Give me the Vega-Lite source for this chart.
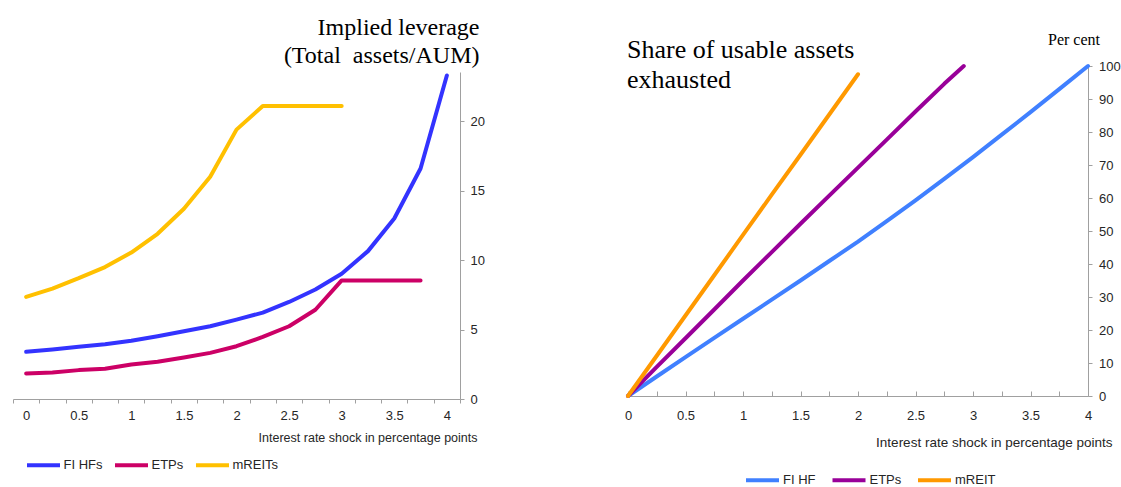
{
  "$schema": "https://vega.github.io/schema/vega-lite/v6.json",
  "padding": {"left": 12, "top": 15, "right": 0, "bottom": 0},
  "background": "white",
  "config": {"view": {"stroke": null}, "font": "Liberation Sans", "axis": {"grid": false}},
  "datasets": {
    "leverage": [
      {"x": 0, "s": "FI HFs", "v": 3.4}, {"x": 0.25, "s": "FI HFs", "v": 3.56}, {"x": 0.5, "s": "FI HFs", "v": 3.76}, {"x": 0.75, "s": "FI HFs", "v": 3.95},
      {"x": 1, "s": "FI HFs", "v": 4.19}, {"x": 1.25, "s": "FI HFs", "v": 4.52}, {"x": 1.5, "s": "FI HFs", "v": 4.88}, {"x": 1.75, "s": "FI HFs", "v": 5.24},
      {"x": 2, "s": "FI HFs", "v": 5.72}, {"x": 2.25, "s": "FI HFs", "v": 6.22}, {"x": 2.5, "s": "FI HFs", "v": 6.99}, {"x": 2.75, "s": "FI HFs", "v": 7.89},
      {"x": 3, "s": "FI HFs", "v": 9.02}, {"x": 3.25, "s": "FI HFs", "v": 10.65}, {"x": 3.5, "s": "FI HFs", "v": 13.0}, {"x": 3.75, "s": "FI HFs", "v": 16.6},
      {"x": 4, "s": "FI HFs", "v": 23.3},
      {"x": 0, "s": "ETPs", "v": 1.84}, {"x": 0.25, "s": "ETPs", "v": 1.91}, {"x": 0.5, "s": "ETPs", "v": 2.08}, {"x": 0.75, "s": "ETPs", "v": 2.18},
      {"x": 1, "s": "ETPs", "v": 2.49}, {"x": 1.25, "s": "ETPs", "v": 2.68}, {"x": 1.5, "s": "ETPs", "v": 2.99}, {"x": 1.75, "s": "ETPs", "v": 3.32},
      {"x": 2, "s": "ETPs", "v": 3.8}, {"x": 2.25, "s": "ETPs", "v": 4.47}, {"x": 2.5, "s": "ETPs", "v": 5.24}, {"x": 2.75, "s": "ETPs", "v": 6.43},
      {"x": 3, "s": "ETPs", "v": 8.54}, {"x": 3.25, "s": "ETPs", "v": 8.54}, {"x": 3.5, "s": "ETPs", "v": 8.54}, {"x": 3.75, "s": "ETPs", "v": 8.54},
      {"x": 0, "s": "mREITs", "v": 7.35}, {"x": 0.25, "s": "mREITs", "v": 7.95}, {"x": 0.5, "s": "mREITs", "v": 8.7}, {"x": 0.75, "s": "mREITs", "v": 9.5},
      {"x": 1, "s": "mREITs", "v": 10.55}, {"x": 1.25, "s": "mREITs", "v": 11.9}, {"x": 1.5, "s": "mREITs", "v": 13.7}, {"x": 1.75, "s": "mREITs", "v": 16.0},
      {"x": 2, "s": "mREITs", "v": 19.4}, {"x": 2.25, "s": "mREITs", "v": 21.1}, {"x": 2.5, "s": "mREITs", "v": 21.1}, {"x": 2.75, "s": "mREITs", "v": 21.1},
      {"x": 3, "s": "mREITs", "v": 21.1}
    ],
    "usable": [
      {"x": 0, "s": "FI HF", "v": 0}, {"x": 0.25, "s": "FI HF", "v": 5.9}, {"x": 0.5, "s": "FI HF", "v": 11.8}, {"x": 0.75, "s": "FI HF", "v": 17.6},
      {"x": 1, "s": "FI HF", "v": 23.4}, {"x": 1.25, "s": "FI HF", "v": 29.2}, {"x": 1.5, "s": "FI HF", "v": 35.0}, {"x": 1.75, "s": "FI HF", "v": 40.9},
      {"x": 2, "s": "FI HF", "v": 46.8}, {"x": 2.25, "s": "FI HF", "v": 53.0}, {"x": 2.5, "s": "FI HF", "v": 59.3}, {"x": 2.75, "s": "FI HF", "v": 65.8},
      {"x": 3, "s": "FI HF", "v": 72.4}, {"x": 3.25, "s": "FI HF", "v": 79.2}, {"x": 3.5, "s": "FI HF", "v": 86.0}, {"x": 3.75, "s": "FI HF", "v": 93.0},
      {"x": 4, "s": "FI HF", "v": 100},
      {"x": 0, "s": "ETPs", "v": 0}, {"x": 0.25, "s": "ETPs", "v": 8.8}, {"x": 0.5, "s": "ETPs", "v": 17.5}, {"x": 0.75, "s": "ETPs", "v": 26.2},
      {"x": 1, "s": "ETPs", "v": 35.0}, {"x": 1.25, "s": "ETPs", "v": 43.6}, {"x": 1.5, "s": "ETPs", "v": 52.2}, {"x": 1.75, "s": "ETPs", "v": 60.7},
      {"x": 2, "s": "ETPs", "v": 69.2}, {"x": 2.25, "s": "ETPs", "v": 77.7}, {"x": 2.5, "s": "ETPs", "v": 86.2}, {"x": 2.75, "s": "ETPs", "v": 94.6},
      {"x": 2.92, "s": "ETPs", "v": 100},
      {"x": 0, "s": "mREIT", "v": 0}, {"x": 0.25, "s": "mREIT", "v": 12.2}, {"x": 0.5, "s": "mREIT", "v": 24.4}, {"x": 0.75, "s": "mREIT", "v": 36.6},
      {"x": 1, "s": "mREIT", "v": 48.8}, {"x": 1.25, "s": "mREIT", "v": 61.0}, {"x": 1.5, "s": "mREIT", "v": 73.1}, {"x": 1.75, "s": "mREIT", "v": 85.3},
      {"x": 2, "s": "mREIT", "v": 97.5}
    ]
  },
  "spacing": 168,
  "bounds": "flush",
  "resolve": {"scale": {"color": "independent"}, "legend": {"color": "independent"}},
  "hconcat": [
    {
      "width": 447,
      "height": 333,
      "data": {"name": "leverage"},
      "mark": {"type": "line", "strokeWidth": 4, "strokeCap": "round", "strokeJoin": "round"},
      "encoding": {
        "x": {
          "field": "x", "type": "ordinal",
          "scale": {"type": "band", "paddingInner": 0, "paddingOuter": 0},
          "axis": {
            "labelAngle": 0, "tickBand": "extent",
            "labelExpr": "(datum.value * 4) % 2 == 0 ? datum.label : ''",
            "domainColor": "#a0a0a0", "tickColor": "#a0a0a0", "tickSize": 4, "labelPadding": 6,
            "labelFont": "Liberation Sans", "labelFontSize": 13, "labelColor": "#262626",
            "title": "Interest rate shock in percentage points",
            "titleX": 464, "titleY": 42.7, "titleAlign": "right", "titleBaseline": "alphabetic",
            "titleFont": "Liberation Sans", "titleFontSize": 12.5, "titleFontWeight": "normal", "titleColor": "#262626"
          }
        },
        "y": {
          "field": "v", "type": "quantitative",
          "scale": {"domain": [0, 23.55], "range": [333, 6], "nice": false, "zero": true},
          "axis": {
            "orient": "right", "values": [0, 5, 10, 15, 20],
            "domainColor": "#a0a0a0", "tickColor": "#a0a0a0", "tickSize": 4, "labelPadding": 6,
            "labelFont": "Liberation Sans", "labelFontSize": 13, "labelColor": "#262626",
            "title": ["Implied leverage", "(Total\u00a0 assets/AUM)"],
            "titleAngle": 0, "titleX": 19, "titleY": -32, "titleAlign": "right", "titleBaseline": "alphabetic",
            "titleFont": "Liberation Serif", "titleFontSize": 24, "titleFontWeight": "normal", "titleColor": "#000000", "titleLineHeight": 28
          }
        },
        "color": {
          "field": "s", "type": "nominal",
          "scale": {"domain": ["FI HFs", "ETPs", "mREITs"], "range": ["#3333ff", "#cc0066", "#ffc000"]},
          "legend": {
            "orient": "none", "legendX": 24, "legendY": 392.5, "direction": "horizontal", "title": null, "padding": 0,
            "symbolType": "M-4.125,0H4.125", "symbolSize": 64, "symbolStrokeWidth": 4,
            "labelOffset": 13.5, "columnPadding": 4,
            "labelFont": "Liberation Sans", "labelFontSize": 13, "labelColor": "#262626"
          }
        }
      }
    },
    {
      "width": 460,
      "height": 330,
      "data": {"name": "usable"},
      "layer": [
        {
          "mark": {"type": "line", "strokeWidth": 4, "strokeCap": "round", "strokeJoin": "round"},
          "encoding": {
            "x": {
              "field": "x", "type": "quantitative",
              "scale": {"domain": [0, 4], "nice": false},
              "axis": {
                "values": [0, 0.25, 0.5, 0.75, 1, 1.25, 1.5, 1.75, 2, 2.25, 2.5, 2.75, 3, 3.25, 3.5, 3.75, 4],
                "format": ".2~f",
                "labelExpr": "(datum.value * 4) % 2 == 0 ? datum.label : ''",
                "labelFlush": false, "labelOverlap": false,
                "domainColor": "#a0a0a0", "tickColor": "#a0a0a0", "tickSize": -5, "labelPadding": 18.3,
                "labelFont": "Liberation Sans", "labelFontSize": 13, "labelColor": "#262626",
                "title": "Interest rate shock in percentage points",
                "titleX": 484, "titleY": 50, "titleAlign": "right", "titleBaseline": "alphabetic",
                "titleFont": "Liberation Sans", "titleFontSize": 13.5, "titleFontWeight": "normal", "titleColor": "#262626"
              }
            },
            "y": {
              "field": "v", "type": "quantitative",
              "scale": {"domain": [0, 100], "nice": false},
              "axis": {
                "orient": "right", "values": [0, 10, 20, 30, 40, 50, 60, 70, 80, 90, 100],
                "domainColor": "#a0a0a0", "tickColor": "#a0a0a0", "tickSize": 4, "labelPadding": 6.5,
                "labelFont": "Liberation Sans", "labelFontSize": 13, "labelColor": "#262626",
                "title": "Per cent",
                "titleAngle": 0, "titleX": -14.5, "titleY": -22, "titleAlign": "center", "titleBaseline": "alphabetic",
                "titleFont": "Liberation Serif", "titleFontSize": 16, "titleFontWeight": "normal", "titleColor": "#000000"
              }
            },
            "color": {
              "field": "s", "type": "nominal",
              "scale": {"domain": ["FI HF", "ETPs", "mREIT"], "range": ["#4080ff", "#990099", "#ff9900"]},
              "legend": {
                "orient": "none", "legendX": 128, "legendY": 407.5, "direction": "horizontal", "title": null, "padding": 0,
                "symbolType": "M-4.125,0H4.125", "symbolSize": 64, "symbolStrokeWidth": 4,
                "labelOffset": 14, "columnPadding": 8.5,
                "labelFont": "Liberation Sans", "labelFontSize": 13, "labelColor": "#262626"
              }
            }
          }
        },
        {
          "mark": {"type": "rule", "opacity": 0},
          "encoding": {
            "x": {
              "field": "x", "type": "quantitative",
              "axis": {
                "orient": "top", "domain": false, "ticks": false, "labels": false,
                "title": ["Share of usable assets", "exhausted"],
                "titleX": -1.5, "titleY": -9, "titleAlign": "left", "titleBaseline": "alphabetic",
                "titleFont": "Liberation Serif", "titleFontSize": 26, "titleFontWeight": "normal", "titleColor": "#000000", "titleLineHeight": 30
              }
            }
          }
        }
      ],
      "resolve": {"axis": {"x": "independent"}}
    }
  ]
}
